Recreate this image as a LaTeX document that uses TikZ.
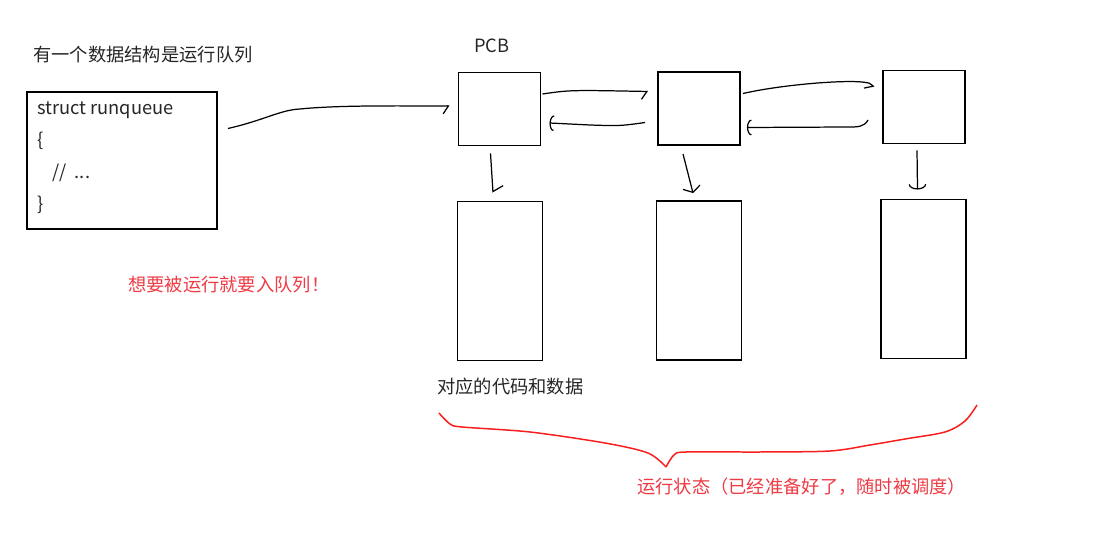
\documentclass[tikz,border=0pt]{standalone}
\usepackage{fontspec}
\setmainfont{Noto Sans CJK SC}
\usetikzlibrary{arrows.meta,calc}

\definecolor{penred}{RGB}{248,30,30}
\definecolor{notered}{RGB}{238,58,68}

\begin{document}
\begin{tikzpicture}[x=0.02cm,y=-0.02cm,
  every node/.style={font=\fontsize{10.4}{12.5}\selectfont},
  txt/.style={anchor=west,inner sep=0pt,text=black!85},
  rednote/.style={anchor=west,inner sep=0pt,text=notered},
  boxline/.style={draw,line width=1.1pt,inner sep=0pt},
  pcbbox/.style={boxline,minimum width=1.64cm,minimum height=1.46cm},
  databox/.style={boxline,minimum width=1.7cm,minimum height=3.18cm},
  fwd/.style={line width=0.7pt,-{Straight Barb[right,length=3pt,width=9pt]}},
  bwd/.style={line width=0.7pt,-{Arc Barb[length=2.5pt,width=9pt]}}]
  \useasboundingbox (0,0) rectangle (1097,536);

  \node[txt] (title) at (33,55) {有一个数据结构是运行队列};
  \node[boxline,minimum width=3.8cm,minimum height=2.74cm] (rq) at (122,160.5) {};
  \node[txt,align=left,font=\fontsize{10.4}{18.2}\selectfont] (code) at (37,158)
    {struct runqueue\\\{\\\hspace*{0.3cm}//\ \ ...\\\}};
  \node[rednote] (enqueue) at (128,285) {想要被运行就要入队列！};

  \node[txt] (pcbname) at (474,46) {PCB};
  \foreach \i/\px/\py/\dx/\dy in {1/499.5/109/500/281, 2/699/108.5/699/280.5, 3/924/107/923.5/279}{
    \node[pcbbox] (pcb\i) at (\px,\py) {};
    \node[databox] (data\i) at (\dx,\dy) {};
  }
  \node[txt] (datanote) at (437,387) {对应的代码和数据};
  \node[rednote] (ready) at (637,487) {运行状态（已经准备好了，随时被调度）};

  \draw[fwd] ($(rq.east)+(10,-32)$) .. controls (265,120) and (280,110) .. (300,109)
    .. controls (340,105) and (400,106) .. ($(pcb1.west)+(-8,-3)$);
  \draw[fwd] ($(pcb1.east)+(1,-15)$) .. controls (570,90) .. ($(pcb2.west)+(-9,-17)$);
  \draw[bwd] ($(pcb2.west)+(-12,14)$) .. controls (620,126) .. (590,125) -- ($(pcb1.east)+(8,14)$);
  \draw[fwd] ($(pcb2.east)+(2,-15)$) .. controls (780,85) and (840,80) .. (862,82)
    .. controls (870,83) .. ($(pcb3.west)+(-8,-20)$);
  \draw[bwd] ($(pcb3.west)+(-14,13)$) .. controls (864,127) and (858,127) .. (848,127)
    -- ($(pcb2.east)+(6,19)$);

  \draw[line width=0.7pt,-{Straight Barb[left,length=3pt,width=12pt]}]
    ($(pcb1.south)+(-9,7)$) -- ($(data1.north)+(-7,-8)$);
  \draw[line width=0.7pt,-{Straight Barb[length=3pt,width=10pt]}]
    ($(pcb2.south)+(-16,8)$) -- ($(data2.north)+(-6,-7)$);
  \draw[line width=0.7pt,-{Arc Barb[length=3pt,width=10pt]}]
    ($(pcb3.south)+(-7,6)$) -- ($(data3.north)+(-6,-9)$);

  \draw[penred,line width=0.85pt] plot[smooth,tension=0.5] coordinates
    {(439,413) (450,424) (462,427) (530,432) (605,443) (648,453) (666,467)};
  \draw[penred,line width=0.85pt] plot[smooth,tension=0.5] coordinates
    {(666,467) (674,455) (686,452) (760,452) (830,451) (870,445) (905,439) (945,432) (965,421) (977,405)};
\end{tikzpicture}
\end{document}
